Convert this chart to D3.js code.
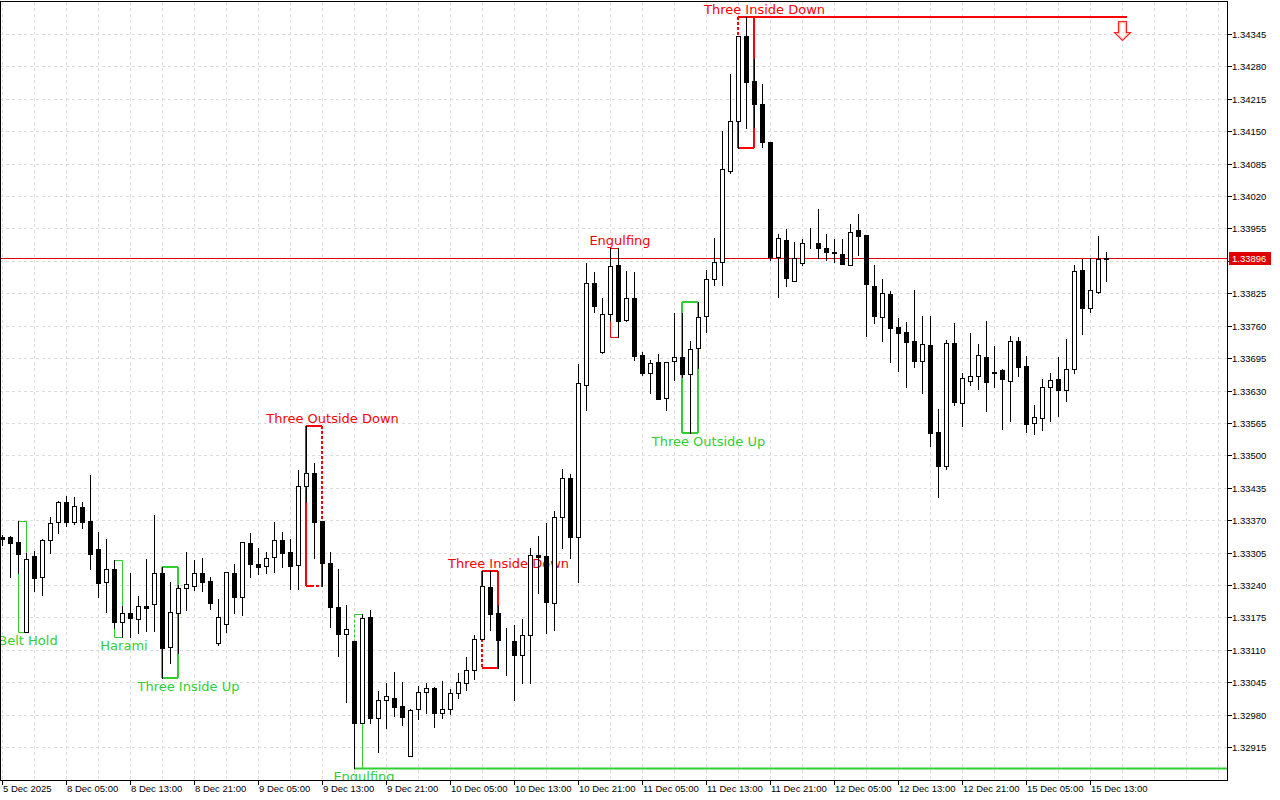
<!DOCTYPE html>
<html><head><meta charset="utf-8">
<script src="https://cdn.jsdelivr.net/npm/d3@7"></script>
<style>html,body{margin:0;padding:0;background:#fff;}svg{display:block}</style>
</head><body>
<svg id="chart" width="1280" height="800"></svg>
<script>
// ---------- DATA ----------
const opens = [1.33336,1.33336,1.33326,1.33146,1.33298,1.33256,1.33330,1.33366,1.33406,1.33366,
1.33396,1.33368,1.33312,1.33246,1.33272,1.33166,1.33184,1.33172,1.33198,1.33202,
1.33264,1.33116,1.33184,1.33234,1.33238,1.33264,1.33248,1.33124,1.33162,1.33264,
1.33216,1.33324,1.33282,1.33278,1.33296,1.33330,1.33306,1.33280,1.33439,1.33465,
1.33368,1.33284,1.33196,1.33142,1.33128,1.32963,1.33176,1.32973,1.33009,1.33014,
1.32997,1.32897,1.32991,1.33026,1.33034,1.32983,1.32991,1.33024,1.33044,1.33070,
1.33132,1.33236,1.33184,1.33130,1.33128,1.33100,1.33140,1.33300,1.33298,1.33204,
1.33376,1.33455,1.33336,1.33641,1.33846,1.33707,1.33783,1.33882,1.33771,1.33815,
1.33701,1.33665,1.33687,1.33615,1.33689,1.33697,1.33663,1.33715,1.33779,1.33854,
1.33888,1.34070,1.34170,1.34341,1.34251,1.34204,1.34128,1.33898,1.33932,1.33850,
1.33886,1.33928,1.33926,1.33916,1.33907,1.33904,1.33882,1.33952,1.33942,1.33840,
1.33777,1.33824,1.33757,1.33747,1.33729,1.33689,1.33721,1.33547,1.33479,1.33725,
1.33605,1.33650,1.33659,1.33697,1.33667,1.33671,1.33649,1.33729,1.33679,1.33565,
1.33575,1.33637,1.33653,1.33631,1.33673,1.33872,1.33795,1.33828,1.33894];
const highs = [1.33340,1.33338,1.33368,1.33304,1.33308,1.33332,1.33376,1.33408,1.33419,1.33417,
1.33406,1.33461,1.33346,1.33332,1.33290,1.33198,1.33264,1.33218,1.33292,1.33380,
1.33276,1.33246,1.33240,1.33306,1.33290,1.33294,1.33256,1.33212,1.33266,1.33282,
1.33326,1.33344,1.33314,1.33306,1.33366,1.33346,1.33332,1.33471,1.33559,1.33485,
1.33368,1.33306,1.33272,1.33200,1.33128,1.33182,1.33190,1.33028,1.33044,1.33066,
1.33046,1.32991,1.33038,1.33044,1.33036,1.33048,1.33032,1.33064,1.33096,1.33140,
1.33268,1.33268,1.33200,1.33154,1.33160,1.33172,1.33314,1.33338,1.33364,1.33388,
1.33473,1.33463,1.33683,1.33886,1.33868,1.33815,1.33916,1.33916,1.33870,1.33868,
1.33707,1.33691,1.33703,1.33687,1.33785,1.33785,1.33729,1.33807,1.33872,1.33936,
1.34150,1.34265,1.34341,1.34379,1.34295,1.34245,1.34128,1.33944,1.33954,1.33928,
1.33934,1.33956,1.33994,1.33944,1.33934,1.33934,1.33964,1.33984,1.33942,1.33882,
1.33854,1.33830,1.33775,1.33767,1.33832,1.33779,1.33779,1.33593,1.33731,1.33765,
1.33665,1.33745,1.33723,1.33769,1.33719,1.33673,1.33739,1.33737,1.33699,1.33601,
1.33653,1.33665,1.33697,1.33733,1.33882,1.33894,1.33896,1.33940,1.33908];
const lows = [1.33320,1.33256,1.33264,1.33146,1.33228,1.33220,1.33304,1.33344,1.33358,1.33362,
1.33354,1.33272,1.33216,1.33186,1.33154,1.33136,1.33136,1.33144,1.33148,1.33148,
1.33054,1.33084,1.33104,1.33190,1.33230,1.33228,1.33192,1.33120,1.33146,1.33184,
1.33180,1.33256,1.33262,1.33264,1.33266,1.33276,1.33232,1.33232,1.33406,1.33294,
1.33238,1.33156,1.33098,1.33005,1.32873,1.32963,1.32963,1.32905,1.32953,1.32977,
1.32959,1.32897,1.32971,1.32983,1.32955,1.32973,1.32981,1.33014,1.33030,1.33052,
1.33132,1.33150,1.33074,1.33060,1.33009,1.33044,1.33044,1.33224,1.33144,1.33150,
1.33314,1.33294,1.33246,1.33591,1.33787,1.33705,1.33771,1.33737,1.33769,1.33691,
1.33661,1.33625,1.33613,1.33591,1.33651,1.33657,1.33545,1.33675,1.33747,1.33842,
1.33842,1.34066,1.34116,1.34156,1.34158,1.34118,1.33892,1.33818,1.33840,1.33850,
1.33882,1.33916,1.33896,1.33892,1.33888,1.33884,1.33882,1.33902,1.33739,1.33765,
1.33729,1.33687,1.33669,1.33637,1.33677,1.33625,1.33519,1.33417,1.33473,1.33601,
1.33559,1.33641,1.33633,1.33589,1.33637,1.33553,1.33569,1.33659,1.33547,1.33543,
1.33551,1.33569,1.33579,1.33609,1.33665,1.33743,1.33787,1.33826,1.33850];
const closes = [1.33332,1.33324,1.33302,1.33292,1.33254,1.33330,1.33364,1.33406,1.33366,1.33398,
1.33366,1.33302,1.33244,1.33272,1.33166,1.33184,1.33174,1.33198,1.33194,1.33264,
1.33114,1.33186,1.33234,1.33242,1.33264,1.33246,1.33204,1.33176,1.33266,1.33216,
1.33326,1.33282,1.33276,1.33294,1.33330,1.33304,1.33278,1.33439,1.33465,1.33366,
1.33284,1.33196,1.33142,1.33152,1.32963,1.33174,1.32973,1.33009,1.33018,1.32995,
1.32975,1.32989,1.33026,1.33034,1.32983,1.32991,1.33024,1.33046,1.33070,1.33132,
1.33238,1.33182,1.33130,1.33129,1.33100,1.33140,1.33300,1.33296,1.33206,1.33376,
1.33455,1.33336,1.33645,1.33846,1.33799,1.33783,1.33880,1.33769,1.33815,1.33699,
1.33665,1.33685,1.33613,1.33687,1.33697,1.33663,1.33713,1.33777,1.33854,1.33888,
1.34074,1.34170,1.34341,1.34249,1.34204,1.34128,1.33898,1.33936,1.33856,1.33896,
1.33926,1.33927,1.33916,1.33908,1.33906,1.33884,1.33948,1.33940,1.33844,1.33779,
1.33826,1.33755,1.33745,1.33727,1.33689,1.33723,1.33545,1.33479,1.33725,1.33607,
1.33655,1.33659,1.33701,1.33647,1.33666,1.33653,1.33729,1.33677,1.33563,1.33577,
1.33637,1.33651,1.33631,1.33673,1.33870,1.33795,1.33832,1.33894,1.33896];

const xTickLabels = ["5 Dec 2025","8 Dec 05:00","8 Dec 13:00","8 Dec 21:00","9 Dec 05:00","9 Dec 13:00",
"9 Dec 21:00","10 Dec 05:00","10 Dec 13:00","10 Dec 21:00","11 Dec 05:00","11 Dec 13:00",
"11 Dec 21:00","12 Dec 05:00","12 Dec 13:00","12 Dec 21:00","15 Dec 05:00","15 Dec 13:00"];
const xTickBars = [0,8,16,24,32,40,48,56,64,72,80,88,96,104,112,120,128,136];
const yTickValues = [1.32915,1.32980,1.33045,1.33110,1.33175,1.33240,1.33305,1.33370,1.33435,
1.33500,1.33565,1.33630,1.33695,1.33760,1.33825,1.33890,1.33955,1.34020,1.34085,1.34150,
1.34215,1.34280,1.34345];
const currentPrice = 1.33896;

const patternNames = ["Belt Hold","Harami","Three Inside Up","Three Outside Down","Engulfing",
"Three Inside Down","Engulfing","Three Outside Up","Three Inside Down"];
const patternStart = [2,14,20,38,44,60,76,85,92];
const patternEnd   = [3,15,22,40,45,62,77,87,94];
const patternDir   = ["bull","bull","bull","bear","bull","bear","bear","bull","bear"];
const signalBar = 140;

// ---------- LAYOUT ----------
const L = 0, R = 1227, T = 2, B = 780;
const svg = d3.select("#chart");
const x = d3.scaleLinear().domain([0, 138]).range([2, 1106]);
const y = d3.scaleLinear().domain([1.32851, 1.34409]).range([779, 2]);
const Y = v => Math.round(y(v));
const GREEN = "#32cd32", RED = "#ff0000";

svg.append("defs").append("clipPath").attr("id","plot")
  .append("rect").attr("x",L).attr("y",T).attr("width",R-L).attr("height",B-T);

// grid
const grid = svg.append("g").attr("clip-path","url(#plot)")
  .attr("stroke","#dcdcdc").attr("stroke-width",1).attr("stroke-dasharray","3,3");
grid.selectAll("line.h").data(yTickValues).join("line")
  .attr("x1",L).attr("x2",R).attr("y1",d=>Y(d)+0.5).attr("y2",d=>Y(d)+0.5);
const vgrid = d3.range(0, 153, 4);
grid.selectAll("line.v").data(vgrid).join("line")
  .attr("x1",d=>x(d)+0.5).attr("x2",d=>x(d)+0.5).attr("y1",T).attr("y2",B);

const plot = svg.append("g").attr("clip-path","url(#plot)");

// current price line
plot.append("line").attr("x1",L).attr("x2",R)
  .attr("y1",Y(currentPrice)+0.5).attr("y2",Y(currentPrice)+0.5)
  .attr("stroke","#e00000").attr("stroke-width",1);

// pattern boxes
const dashSpec = {3:["rightAbove","bottom"],4:["leftAbove"],5:["leftBelow"],8:["leftAbove"]};
const boxes = plot.append("g");
const labels = plot.append("g").attr("font-family","DejaVu Sans, Verdana, sans-serif").attr("font-size","13px");
patternNames.forEach((name, k) => {
  const s = patternStart[k], e = patternEnd[k];
  const top = d3.max(highs.slice(s, e+1)), bot = d3.min(lows.slice(s, e+1));
  const col = patternDir[k] === "bull" ? GREEN : RED;
  const n = e - s + 1;
  const w = n === 3 ? 2 : 1;
  const off = w === 1 ? 0.5 : 0;
  const x0 = x(s) + off, x1 = x(e) + off, y0 = Y(top) + off, y1 = Y(bot) + off;
  const spec = dashSpec[k] || [];
  const seg = (xa, ya, xb, yb, dashed) => boxes.append("line")
    .attr("x1",xa).attr("y1",ya).attr("x2",xb).attr("y2",yb)
    .attr("stroke",col).attr("stroke-width",w)
    .attr("stroke-dasharray", dashed ? "3,2" : null);
  seg(x0, y0, x1, y0, false);
  if (spec.includes("bottom")) { seg(x0, y1, (x0+x1)/2 - 3, y1, false); seg((x0+x1)/2 - 3, y1, x1, y1, true); }
  else seg(x0, y1, x1, y1, false);
  if (spec.includes("leftAbove")) { const yh = Y(highs[s]); seg(x0, y0, x0, yh, true); seg(x0, yh, x0, y1, false); }
  else if (spec.includes("leftBelow")) { const yl = Y(lows[s]); seg(x0, y0, x0, yl, false); seg(x0, yl, x0, y1, true); }
  else seg(x0, y0, x0, y1, false);
  if (spec.includes("rightAbove")) { const yh = Y(highs[e]); seg(x1, y0, x1, yh, true); seg(x1, yh, x1, y1, false); }
  else seg(x1, y0, x1, y1, false);

  const lx = (x(s) + x(e)) / 2 + (n === 3 ? 18.5 : 6);
  labels.append("text").attr("x", lx)
    .attr("y", patternDir[k] === "bull" ? Y(bot) + 13 : Y(top) - 3)
    .attr("text-anchor","middle").attr("fill", col).text(name);
});

// extension lines of last signals
const lastBull = 4, lastBear = 8;
{
  const bot = d3.min(lows.slice(patternStart[lastBull], patternEnd[lastBull]+1));
  plot.append("line").attr("x1", x(patternStart[lastBull])).attr("x2", R)
    .attr("y1", Y(bot)+0.5).attr("y2", Y(bot)+0.5).attr("stroke", GREEN).attr("stroke-width", 2);
  const top = d3.max(highs.slice(patternStart[lastBear], patternEnd[lastBear]+1));
  plot.append("line").attr("x1", x(patternStart[lastBear])).attr("x2", x(signalBar)+5)
    .attr("y1", Y(top)).attr("y2", Y(top)).attr("stroke", RED).attr("stroke-width", 2);
  const cx = x(signalBar) + 0.5, ya = Y(top) + 4.5;
  const pts = [[cx-4,ya],[cx+4,ya],[cx+4,ya+11],[cx+8,ya+11],[cx,ya+19],[cx-8,ya+11],[cx-4,ya+11]];
  plot.append("path").attr("d", d3.line()(pts) + "Z")
    .attr("fill","#fff").attr("stroke","#ff2020").attr("stroke-width",1.2);
  const pts2 = [[cx-2.8,ya+1.2],[cx+2.8,ya+1.2],[cx+2.8,ya+12.2],[cx+5.3,ya+12.2],[cx,ya+17.3],[cx-5.3,ya+12.2],[cx-2.8,ya+12.2]];
  plot.append("path").attr("d", d3.line()(pts2) + "Z")
    .attr("fill","none").attr("stroke","#ffb090").attr("stroke-width",1);
}

// candles
const bars = d3.range(opens.length);
const cg = plot.append("g");
cg.selectAll("line.w").data(bars).join("line")
  .attr("x1", i => x(i)+0.5).attr("x2", i => x(i)+0.5)
  .attr("y1", i => Y(highs[i])).attr("y2", i => Y(lows[i])+1)
  .attr("stroke","#000").attr("stroke-width",1);
cg.selectAll("rect").data(bars).join("rect")
  .attr("x", i => x(i) - 1.5).attr("width", 4)
  .attr("y", i => Math.min(Y(opens[i]), Y(closes[i])) + 0.5)
  .attr("height", i => Math.abs(Y(opens[i]) - Y(closes[i])))
  .attr("fill", i => closes[i] >= opens[i] ? "#fff" : "#000")
  .attr("stroke","#000").attr("stroke-width",1);

// frame
const fr = svg.append("g").attr("stroke","#000").attr("stroke-width",1);
fr.append("line").attr("x1",L).attr("x2",R+1).attr("y1",1.5).attr("y2",1.5);
fr.append("line").attr("x1",R+0.5).attr("x2",R+0.5).attr("y1",1).attr("y2",B+1);
fr.append("line").attr("x1",L).attr("x2",R+1).attr("y1",B+0.5).attr("y2",B+0.5);
fr.append("line").attr("x1",L+0.5).attr("x2",L+0.5).attr("y1",1).attr("y2",B+1);

// right axis (tick labels hidden behind the price tag are drawn first, tag on top)
const ax = svg.append("g").attr("font-family","Liberation Sans, Arial, sans-serif").attr("font-size","9.5px");
ax.selectAll("line.t").data(yTickValues).join("line")
  .attr("x1",R+1).attr("x2",R+5).attr("y1",d=>Y(d)+0.5).attr("y2",d=>Y(d)+0.5)
  .attr("stroke","#000");
ax.selectAll("text.y").data(yTickValues).join("text")
  .attr("x",R+5).attr("y",d=>Y(d)+0.5).attr("dy","0.35em").attr("fill","#000")
  .text(d=>d3.format(".5f")(d));
ax.append("rect").attr("x",R+2).attr("y",Y(currentPrice)-6).attr("width",42).attr("height",13).attr("fill","#e00000");
ax.append("text").attr("x",R+5).attr("y",Y(currentPrice)+0.5).attr("dy","0.35em").attr("fill","#fff")
  .text(d3.format(".5f")(currentPrice));

// bottom axis
ax.selectAll("line.x").data(xTickBars).join("line")
  .attr("x1",i=>x(i)+0.5).attr("x2",i=>x(i)+0.5).attr("y1",B+1).attr("y2",B+5).attr("stroke","#000");
ax.selectAll("text.x").data(xTickBars).join("text")
  .attr("x",i=>x(i)+1).attr("y",B+12).attr("fill","#000")
  .text((d,k)=>xTickLabels[k]);
</script>
</body></html>
